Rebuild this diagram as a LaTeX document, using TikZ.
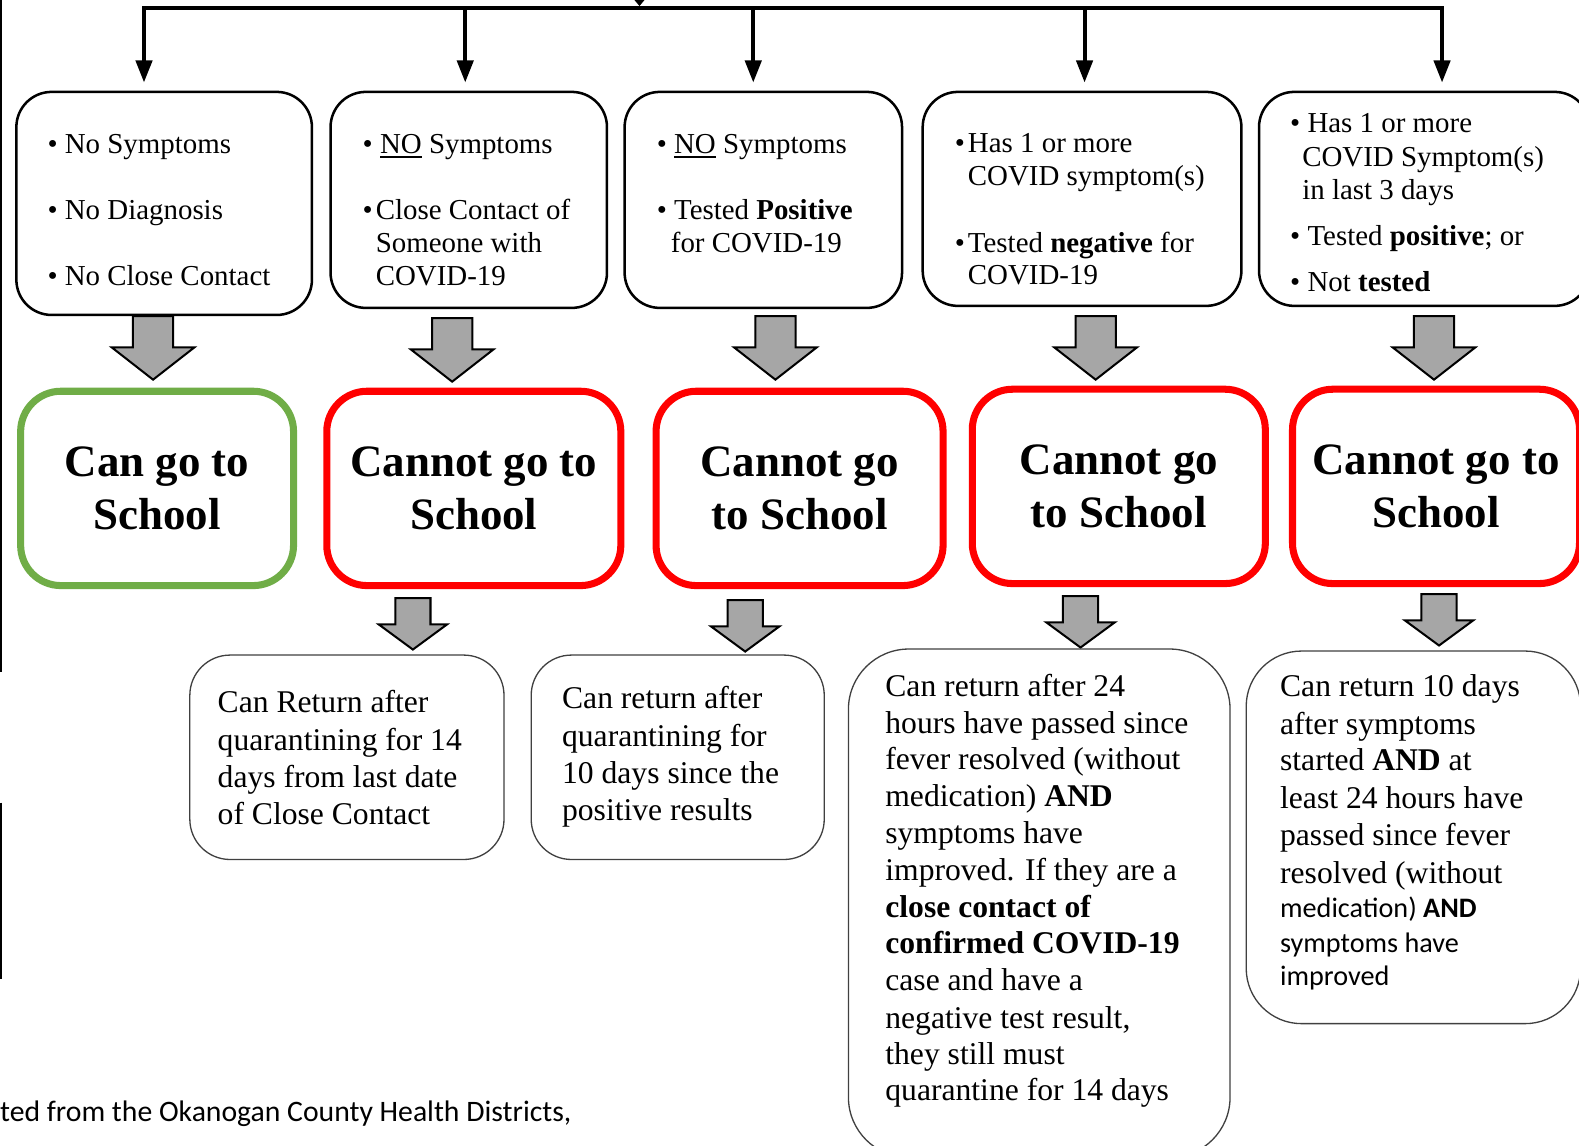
\documentclass[tikz,border=0pt]{standalone}
\usepackage{fontspec}
\setmainfont{Liberation Serif}
\newfontfamily\calib{Carlito}
\usetikzlibrary{arrows.meta}
\definecolor{gfill}{HTML}{A6A6A6}
\definecolor{okgreen}{HTML}{70AD47}
\definecolor{nored}{HTML}{FF0000}
\definecolor{thinc}{HTML}{404040}
\newcommand\ulx[1]{\setbox0\hbox{#1}\rlap{\rule[-5pt]{\wd0}{1.6pt}}\box0\relax}
\newcommand\garA[3]{\draw[garrow] ({#1-20},#2) -- ({#1+20},#2) -- ({#1+20},{#3-32}) -- ({#1+41},{#3-32}) -- (#1,#3) -- ({#1-41},{#3-32}) -- ({#1-20},{#3-32}) -- cycle;}
\newcommand\garB[3]{\draw[garrow] ({#1-17.5},#2) -- ({#1+17.5},#2) -- ({#1+17.5},{#3-25}) -- ({#1+34},{#3-25}) -- (#1,#3) -- ({#1-34},{#3-25}) -- ({#1-17.5},{#3-25}) -- cycle;}
\begin{document}
\begin{tikzpicture}[x=1pt,y=-1pt,
 topbox/.style={draw=black, line width=2.5pt, rounded corners=35pt, inner sep=0pt},
 bigbox/.style={line width=7pt, rounded corners=40pt, align=center, inner sep=0pt, font=\fontsize{44.6}{52}\selectfont\bfseries},
 okbox/.style={bigbox, draw=okgreen},
 nobox/.style={bigbox, draw=nored},
 lowbox/.style={draw=thinc, line width=1.3pt, inner sep=0pt},
 ttxt/.style={anchor=base west, inner sep=0pt, font=\fontsize{28.7}{33}\selectfont},
 btxt/.style={anchor=base west, inner sep=0pt, font=\fontsize{31.4}{37}\selectfont},
 ctxt/.style={anchor=base west, inner sep=0pt, font=\calib\fontsize{28}{33}\selectfont},
 flow/.style={line width=4pt, -{Triangle[length=22pt,width=16pt]}},
 garrow/.style={draw=black, line width=2pt, fill=gfill, line join=miter},
]
\useasboundingbox (0,0) rectangle (1568,1138);
\fill[white] (0,0) rectangle (1568,1138);

% left edge lines
\draw[line width=2pt] (1,0) -- (1,667);
\draw[line width=2pt] (1,797) -- (1,972);

% top boxes
\node[topbox, minimum width=293.5pt, minimum height=221.5pt] (t1) at (163,202) {};
\node[topbox, minimum width=274.5pt, minimum height=214.5pt] (t2) at (465.5,198.5) {};
\node[topbox, minimum width=275.5pt, minimum height=214.5pt] (t3) at (758,198.5) {};
\node[topbox, minimum width=316.5pt, minimum height=212.5pt] (t4) at (1074.5,197.5) {};
\node[topbox, minimum width=328.5pt, minimum height=212.5pt] (t5) at (1414.5,197.5) {};

% bus and arrows
\coordinate (j1) at (143,8);
\coordinate (j2) at (462,8);
\coordinate (j3) at (748,8);
\coordinate (j4) at (1077,8);
\coordinate (j5) at (1432,8);
\draw[line width=4.8pt, line cap=rect] (j1) -- (j5);
\fill (630,0) -- (640,0) -- (635,6) -- cycle;
\draw[flow, shorten >=8pt] (j1) -- (j1 |- t1.north);
\draw[flow, shorten >=8pt] (j2) -- (j2 |- t2.north);
\draw[flow, shorten >=8pt] (j3) -- (j3 |- t3.north);
\draw[flow, shorten >=8pt] (j4) -- (j4 |- t4.north);
\draw[flow, shorten >=8pt] (j5) -- (j5 |- t5.north);

% top texts
\node[ttxt] (t1a) at (47,152) {• No Symptoms};
\node[ttxt] (t1b) at (47,218) {• No Diagnosis};
\node[ttxt] (t1c) at (47,284) {• No Close Contact};

\node[ttxt] (t2a) at (360,152) {• \ulx{NO} Symptoms};
\node[ttxt] (t2b) at (360,218) {•\kern3pt Close Contact of};
\node[ttxt] (t2c) at (373,251) {Someone with};
\node[ttxt] (t2d) at (373,284) {COVID-19};

\node[ttxt] (t3a) at (652,152) {• \ulx{NO} Symptoms};
\node[ttxt] (t3b) at (652,218) {• Tested \textbf{Positive}};
\node[ttxt] (t3c) at (666,251) {for COVID-19};

\node[ttxt] (t4a) at (948,151) {•\kern3pt Has 1 or more};
\node[ttxt] (t4b) at (961,184) {COVID symptom(s)};
\node[ttxt] (t4c) at (948,251) {•\kern3pt Tested \textbf{negative} for};
\node[ttxt] (t4d) at (961,283) {COVID-19};

\node[ttxt] (t5a) at (1281,132) {• Has 1 or more};
\node[ttxt] (t5b) at (1293,165) {COVID Symptom(s)};
\node[ttxt] (t5c) at (1293,198) {in last 3 days};
\node[ttxt] (t5d) at (1281,244) {• Tested \textbf{positive}; or};
\node[ttxt] (t5e) at (1281,289) {• Not \textbf{tested}};

% big boxes
\node[okbox, minimum width=271pt, minimum height=193pt] (g1) at (156,485) {Can go to\\School};
\node[nobox, minimum width=292pt, minimum height=193pt] (r2) at (470.5,485) {Cannot go to\\School};
\node[nobox, minimum width=285pt, minimum height=193pt] (r3) at (794,485) {Cannot go\\to School};
\node[nobox, minimum width=291pt, minimum height=193pt] (r4) at (1111,483) {Cannot go\\to School};
\node[nobox, minimum width=285pt, minimum height=193pt] (r5) at (1426,483) {Cannot go to\\School};

% gray arrows
\garA{152}{314}{377}
\garA{449}{316}{379}
\garA{770}{314}{377}
\garA{1088}{314}{377}
\garA{1424}{314}{377}

\garB{410}{594}{645}
\garB{740}{596}{647}
\garB{1073}{592}{643}
\garB{1429}{590}{641}

% bottom boxes
\node[lowbox, rounded corners=40pt, minimum width=312pt, minimum height=203pt] (b2) at (344.5,752) {};
\node[lowbox, rounded corners=40pt, minimum width=291pt, minimum height=203pt] (b3) at (673,752) {};
\node[lowbox, rounded corners=60pt, minimum width=379pt, minimum height=505pt] (b4) at (1032,897) {};
\node[lowbox, rounded corners=55pt, minimum width=332pt, minimum height=370pt] (b5) at (1403.5,831.5) {};

\node[btxt] (b2a) at (216,708) {Can Return after};
\node[btxt] (b2b) at (216,745) {quarantining for 14};
\node[btxt] (b2c) at (216,782) {days from last date};
\node[btxt] (b2d) at (216,819) {of Close Contact};

\node[btxt] (b3a) at (558,704) {Can return after};
\node[btxt] (b3b) at (558,741) {quarantining for};
\node[btxt] (b3c) at (558,778) {10 days since the};
\node[btxt] (b3d) at (558,815) {positive results};

\node[btxt] (b4a) at (879,692) {Can return after 24};
\node[btxt] (b4b) at (879,728) {hours have passed since};
\node[btxt] (b4c) at (879,764) {fever resolved (without};
\node[btxt] (b4d) at (879,801) {medication) \textbf{AND}};
\node[btxt] (b4e) at (879,838) {symptoms have};
\node[btxt] (b4f) at (879,874) {improved. If they are a};
\node[btxt] (b4g) at (879,911) {\textbf{close contact of}};
\node[btxt] (b4h) at (879,947) {\textbf{confirmed COVID-19}};
\node[btxt] (b4i) at (879,984) {case and have a};
\node[btxt] (b4j) at (879,1021) {negative test result,};
\node[btxt] (b4k) at (879,1057) {they still must};
\node[btxt] (b4l) at (879,1093) {quarantine for 14 days};

\node[btxt] (b5a) at (1271,692) {Can return 10 days};
\node[btxt] (b5b) at (1271,729) {after symptoms};
\node[btxt] (b5c) at (1271,765) {started \textbf{AND} at};
\node[btxt] (b5d) at (1271,803) {least 24 hours have};
\node[btxt] (b5e) at (1271,840) {passed since fever};
\node[btxt] (b5f) at (1271,877) {resolved (without};
\node[ctxt] (b5g) at (1271,911) {medication) \textbf{AND}};
\node[ctxt] (b5h) at (1271,946) {symptoms have};
\node[ctxt] (b5i) at (1271,979) {improved};

% footer
\node[anchor=base west, inner sep=0pt, font=\calib\fontsize{29.5}{34}\selectfont] (foot) at (0,1114) {ted from the Okanogan County Health Districts,};
\end{tikzpicture}
\end{document}
